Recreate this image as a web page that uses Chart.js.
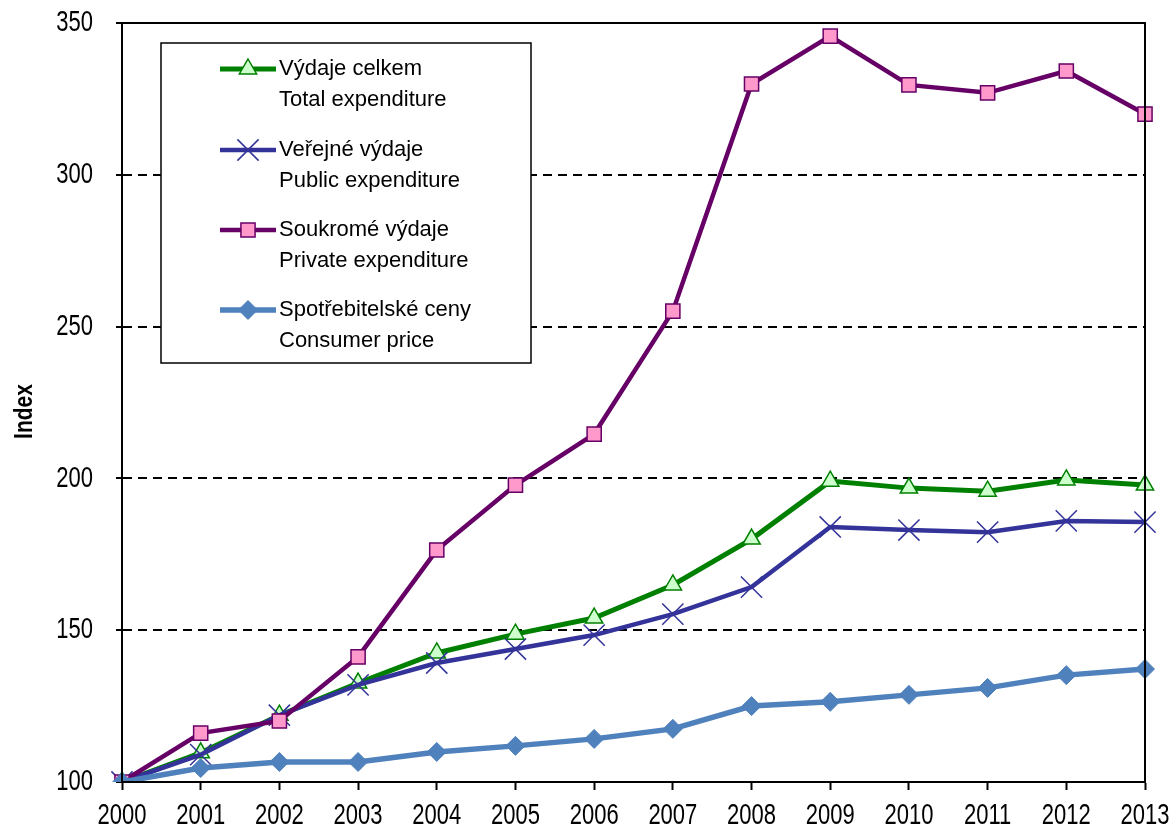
<!DOCTYPE html>
<html>
<head>
<meta charset="utf-8">
<script src="https://cdn.jsdelivr.net/npm/chart.js@4.4.1/dist/chart.umd.min.js"></script>
<style>
  html, body { margin: 0; padding: 0; background: #fff; }
  #wrap { width: 1175px; height: 830px; position: relative; }
</style>
</head>
<body>
<div id="wrap"><canvas id="chart" width="1175" height="830"></canvas></div>
<script>
// data
const years = ['2000', '2001', '2002', '2003', '2004', '2005', '2006', '2007', '2008', '2009', '2010', '2011', '2012', '2013']
const totalExp = [100, 109.6, 122, 132.6, 142.5, 148.7, 154, 164.9, 180, 199.1, 196.8, 195.8, 199.5, 197.8]
const publicExp = [100, 109, 122, 132, 139.2, 143.8, 148.4, 155.3, 164.2, 184, 183, 182.3, 186, 185.6]
const privateExp = [100, 116.1, 120.1, 141.2, 176.4, 197.8, 214.6, 255.1, 329.9, 345.7, 329.6, 327, 334.2, 320]
const consumerPrice = [100, 104.6, 106.6, 106.6, 109.9, 111.9, 114.2, 117.5, 125, 126.4, 128.7, 131, 135.2, 137.2]
const yTicks = [100, 150, 200, 250, 300, 350]

const legendLines = [
  ['Výdaje celkem', 'Total expenditure'],
  ['Veřejné výdaje', 'Public expenditure'],
  ['Soukromé výdaje', 'Private expenditure'],
  ['Spotřebitelské ceny', 'Consumer price'],
]

const FONT = "'Liberation Sans', Arial, sans-serif"

// same shapes as chart.js point styles, for the legend box
function drawMarker(ctx, ds, x, y) {
  const r = ds.pointRadius
  ctx.save()
  ctx.fillStyle = ds.pointBackgroundColor
  ctx.strokeStyle = ds.pointBorderColor
  ctx.lineWidth = ds.pointBorderWidth
  ctx.beginPath()
  if (ds.pointStyle === 'triangle') {
    ctx.moveTo(x, y - r)
    ctx.lineTo(x + r * 0.866, y + r * 0.5)
    ctx.lineTo(x - r * 0.866, y + r * 0.5)
    ctx.closePath()
    ctx.fill(); ctx.stroke()
  } else if (ds.pointStyle === 'rect') {
    const s = r * Math.SQRT1_2
    ctx.rect(x - s, y - s, s * 2, s * 2)
    ctx.fill(); ctx.stroke()
  } else if (ds.pointStyle === 'rectRot') {
    ctx.moveTo(x, y - r); ctx.lineTo(x + r, y); ctx.lineTo(x, y + r); ctx.lineTo(x - r, y)
    ctx.closePath()
    ctx.fill(); ctx.stroke()
  } else {
    const d = r * Math.SQRT1_2
    ctx.moveTo(x - d, y - d); ctx.lineTo(x + d, y + d)
    ctx.moveTo(x + d, y - d); ctx.lineTo(x - d, y + d)
    ctx.stroke()
  }
  ctx.restore()
}

// text drawn a bit taller than wide, like the original
function stretchedText(ctx, text, x, y, sy, align) {
  ctx.save()
  ctx.translate(x, y)
  ctx.scale(1, sy)
  ctx.textAlign = align
  ctx.textBaseline = 'middle'
  ctx.fillText(text, 0, 0)
  ctx.restore()
}

const framePlugin = {
  id: 'frame',
  afterDatasetsDraw(chart) {
    const { ctx, chartArea: a } = chart
    ctx.save()
    ctx.strokeStyle = '#000'
    ctx.lineWidth = 2
    ctx.strokeRect(a.left, a.top, a.right - a.left, a.bottom - a.top)
    ctx.restore()
  },
  afterDraw(chart) {
    const { ctx } = chart
    const xs = chart.scales.x
    const ys = chart.scales.y

    // tick labels
    ctx.save()
    ctx.fillStyle = '#000'
    ctx.font = '22px ' + FONT
    yTicks.forEach((v) => stretchedText(ctx, String(v), 93, ys.getPixelForValue(v), 1.35, 'right'))
    years.forEach((lab, i) => stretchedText(ctx, lab, xs.getPixelForValue(i), 816, 1.35, 'center'))

    // axis title
    ctx.font = 'bold 21px ' + FONT
    ctx.translate(25, (ys.top + ys.bottom) / 2 + 9)
    ctx.rotate(-Math.PI / 2)
    ctx.scale(1, 1.2)
    ctx.textAlign = 'center'
    ctx.textBaseline = 'middle'
    ctx.fillText('Index', 0, 0)
    ctx.restore()

    // legend box
    const bx = 161, by = 43, bw = 370, bh = 320
    ctx.save()
    ctx.fillStyle = '#fff'
    ctx.fillRect(bx, by, bw, bh)
    ctx.strokeStyle = '#000'
    ctx.lineWidth = 1.5
    ctx.strokeRect(bx, by, bw, bh)
    ctx.font = '22px ' + FONT
    ctx.textBaseline = 'middle'
    const rowY = [69, 150, 230, 310]
    chart.data.datasets.forEach((ds, i) => {
      const y = rowY[i]
      ctx.strokeStyle = ds.borderColor
      ctx.lineWidth = ds.borderWidth
      ctx.beginPath()
      ctx.moveTo(220, y); ctx.lineTo(276, y)
      ctx.stroke()
      drawMarker(ctx, ds, 248, y)
      ctx.fillStyle = '#000'
      ctx.fillText(legendLines[i][0], 279, y)
      ctx.fillText(legendLines[i][1], 279, y + 31)
    })
    ctx.restore()
  }
}

new Chart(document.getElementById('chart'), {
  type: 'line',
  data: {
    labels: years,
    datasets: [
      {
        label: legendLines[0].join(' '),
        data: totalExp,
        borderColor: '#008000',
        borderWidth: 5,
        pointStyle: 'triangle',
        pointRadius: 10,
        pointBackgroundColor: '#ccffcc',
        pointBorderColor: '#008000',
        pointBorderWidth: 1.5,
        order: 3,
      },
      {
        label: legendLines[1].join(' '),
        data: publicExp,
        borderColor: '#333399',
        borderWidth: 4.5,
        pointStyle: 'crossRot',
        pointRadius: 15,
        pointBackgroundColor: '#333399',
        pointBorderColor: '#333399',
        pointBorderWidth: 1.5,
        order: 2,
      },
      {
        label: legendLines[2].join(' '),
        data: privateExp,
        borderColor: '#660066',
        borderWidth: 4.5,
        pointStyle: 'rect',
        pointRadius: 10,
        pointBackgroundColor: '#ff99cc',
        pointBorderColor: '#660066',
        pointBorderWidth: 1.5,
        order: 1,
      },
      {
        label: legendLines[3].join(' '),
        data: consumerPrice,
        borderColor: '#4f81bd',
        borderWidth: 5.5,
        pointStyle: 'rectRot',
        pointRadius: 9.5,
        pointBackgroundColor: '#4f81bd',
        pointBorderColor: '#4f81bd',
        pointBorderWidth: 1,
        order: 0,
      },
    ],
  },
  options: {
    responsive: false,
    animation: false,
    layout: { padding: { left: 0, right: 30, top: 23, bottom: 0 } },
    plugins: {
      legend: { display: false },
      tooltip: { enabled: false },
    },
    scales: {
      x: {
        offset: false,
        grid: { drawOnChartArea: false, drawTicks: true, tickLength: 8, tickColor: '#000', tickWidth: 2 },
        border: { display: true, color: '#000', width: 2 },
        ticks: { color: 'rgba(0,0,0,0)', font: { family: FONT, size: 20 }, maxRotation: 0, autoSkip: false },
        afterFit(scale) { scale.height = 48 },
      },
      y: {
        min: 100,
        max: 350,
        ticks: { stepSize: 50, color: 'rgba(0,0,0,0)', font: { family: FONT, size: 20 } },
        grid: {
          color: (c) => (c.tick && (c.tick.value === 100 || c.tick.value === 350)) ? 'rgba(0,0,0,0)' : '#000',
          lineWidth: 2,
          drawTicks: true,
          tickLength: 6,
          tickColor: '#000',
          tickWidth: 2,
        },
        border: { display: true, color: '#000', width: 2, dash: [9, 6] },
        afterFit(scale) { scale.width = 122 },
      },
    },
  },
  plugins: [framePlugin],
})
</script>
</body>
</html>
